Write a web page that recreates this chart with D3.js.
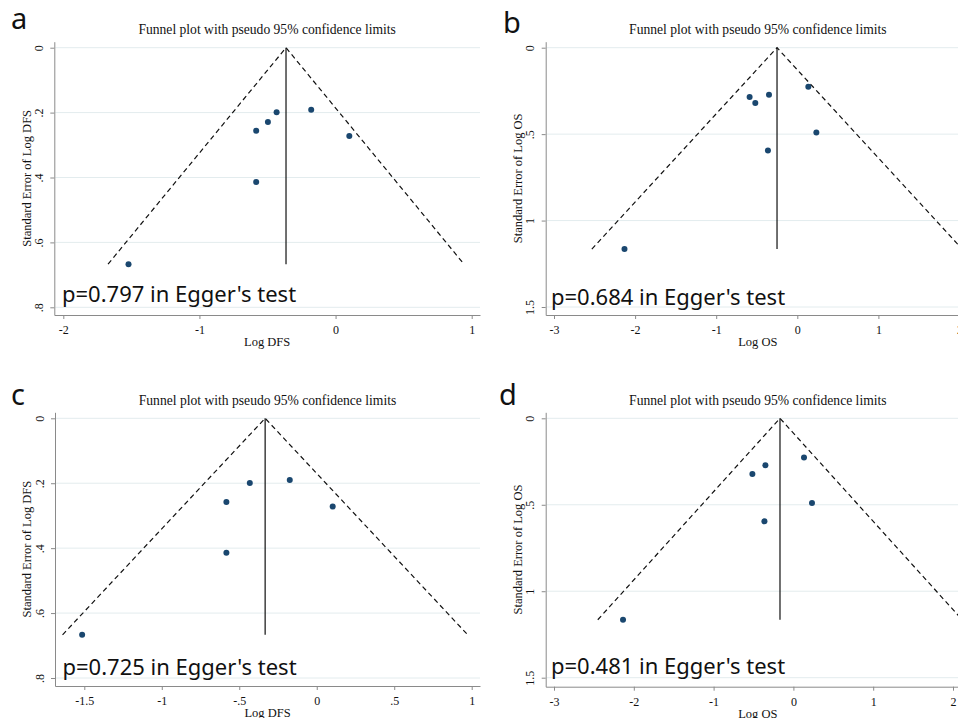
<!DOCTYPE html>
<html>
<head>
<meta charset="utf-8">
<script src="https://cdn.jsdelivr.net/npm/d3@7"></script>
<style>
  body { margin: 0; background: #fff; }
  svg { display: block; }
  .serif { font-family: "Liberation Serif", "Times New Roman", serif; fill: #111; }
  .sans  { font-family: "Noto Sans", "Open Sans", sans-serif; fill: #111; }
</style>
</head>
<body>
<svg></svg>
<script>
///////////////////////////////////////////
// Data
var panelLetters = ["a", "b", "c", "d"];
var outcomeNames = ["DFS", "OS", "DFS", "OS"];
var eggerP = ["0.797", "0.684", "0.725", "0.481"];
var pooledLogEffect = [-0.364, -0.25, -0.333, -0.168];

var logDFS_a = [-1.521, -0.583, -0.583, -0.497, -0.433, -0.179, 0.101];
var seDFS_a  = [0.667, 0.256, 0.414, 0.229, 0.199, 0.191, 0.272];

var logOS_b = [-2.131, -0.588, -0.518, -0.349, -0.362, 0.136, 0.235];
var seOS_b  = [1.165, 0.285, 0.320, 0.272, 0.594, 0.226, 0.490];

var logDFS_c = [-1.514, -0.583, -0.583, -0.432, -0.174, 0.103];
var seDFS_c  = [0.667, 0.258, 0.414, 0.199, 0.190, 0.272];

var logOS_d = [-2.135, -0.514, -0.351, -0.363, 0.133, 0.233];
var seOS_d  = [1.165, 0.322, 0.272, 0.596, 0.226, 0.490];

var effectValues = [logDFS_a, logOS_b, logDFS_c, logOS_d];
var seValues = [seDFS_a, seOS_b, seDFS_c, seOS_d];

var xTicks = [[-2, -1, 0, 1], [-3, -2, -1, 0, 1, 2], [-1.5, -1, -0.5, 0, 0.5, 1], [-3, -2, -1, 0, 1, 2]];
var yTicks = [[0, 0.2, 0.4, 0.6, 0.8], [0, 0.5, 1, 1.5], [0, 0.2, 0.4, 0.6, 0.8], [0, 0.5, 1, 1.5]];

///////////////////////////////////////////
// Layout Setting
var svgWidth = 958, svgHeight = 718;
// plot box + pixel position of first/last tick, per panel
var layout = [
  {left: 54.3, right: 480, top: 41.7, bottom: 315, xp: [63.3, 471.7], yp: [47.7, 307.3],
   titleY: 34, letterX: 11, letterY: 29, eggerX: 62, eggerY: 302, yLabelX: 31},
  {left: 545.7, right: 970, top: 41.7, bottom: 315, xp: [554, 959.5], yp: [47.7, 307],
   titleY: 34, letterX: 503, letterY: 32.5, eggerX: 551, eggerY: 305, yLabelX: 522},
  {left: 55, right: 480, top: 412.3, bottom: 686, xp: [84.3, 471.7], yp: [418.3, 678],
   titleY: 405, letterX: 11, letterY: 404.5, eggerX: 62.5, eggerY: 675, yLabelX: 31},
  {left: 545.7, right: 970, top: 412.3, bottom: 686.7, xp: [554, 953], yp: [418.3, 677.7],
   titleY: 405, letterX: 499, letterY: 405, eggerX: 551, eggerY: 673.5, yLabelX: 522}
];

var dotColor = "#1a476f",
    gridColor = "#e3ecee",
    axisColor = "#8a8a8a";

var svg = d3.select("svg").attr("width", svgWidth).attr("height", svgHeight);

// Stata style tick labels: ".5", "-.5"
function stataFormat(v) {
  return String(v).replace(/^(-?)0\./, "$1.");
}

///////////////////////////////////////////
// Draw each panel
panelLetters.forEach(function(letter, i) {
  var L = layout[i];
  var xt = xTicks[i], yt = yTicks[i];

  // scale by tick pixels, then widen the domain to the whole plot box
  var xs0 = d3.scaleLinear().domain([xt[0], xt[xt.length - 1]]).range(L.xp);
  var ys0 = d3.scaleLinear().domain([yt[0], yt[yt.length - 1]]).range(L.yp);
  var x = d3.scaleLinear().domain([xs0.invert(L.left), xs0.invert(L.right)]).range([L.left, L.right]);
  var y = d3.scaleLinear().domain([ys0.invert(L.top), ys0.invert(L.bottom)]).range([L.top, L.bottom]);

  var g = svg.append("g").classed("panel-" + letter, true);

  var clipId = "clip-" + letter;
  g.append("clipPath").attr("id", clipId)
    .append("rect")
    .attr("x", L.left).attr("y", L.top)
    .attr("width", Math.min(L.right, svgWidth) - L.left)
    .attr("height", L.bottom - L.top);

  // gridlines
  g.append("g").selectAll("line").data(yt).join("line")
    .attr("x1", L.left + 1).attr("x2", L.right)
    .attr("y1", function(d) { return y(d); })
    .attr("y2", function(d) { return y(d); })
    .attr("stroke", gridColor).attr("stroke-width", 1);

  // x axis
  var xAxis = g.append("g")
    .attr("transform", "translate(0," + L.bottom + ")")
    .call(d3.axisBottom(x).tickValues(xt).tickFormat(stataFormat)
          .tickSize(4).tickSizeOuter(0).tickPadding(6.5));
  xAxis.select(".domain").attr("stroke", axisColor);
  xAxis.selectAll(".tick line").attr("stroke", axisColor);
  xAxis.selectAll(".tick text").attr("class", "serif")
    .style("font-size", "12px").attr("fill", "#111");

  // y axis, rotated labels
  var yAxis = g.append("g")
    .attr("transform", "translate(" + L.left + ",0)")
    .call(d3.axisLeft(y).tickValues(yt).tickFormat(stataFormat)
          .tickSize(4).tickSizeOuter(0));
  yAxis.select(".domain").attr("stroke", axisColor);
  yAxis.selectAll(".tick line").attr("stroke", axisColor);
  yAxis.selectAll(".tick text").attr("class", "serif")
    .style("font-size", "12px").attr("fill", "#111")
    .attr("x", null).attr("dy", null)
    .attr("text-anchor", "middle")
    .attr("transform", "translate(-11.5,0) rotate(-90)");

  // funnel: pooled estimate +/- 1.96 * se
  var theta = pooledLogEffect[i];
  var seMax = d3.max(seValues[i]);
  var funnel = g.append("g").attr("clip-path", "url(#" + clipId + ")");
  funnel.append("path")
    .attr("d", d3.line()([[x(theta - 1.96 * seMax), y(seMax)], [x(theta), y(0)], [x(theta + 1.96 * seMax), y(seMax)]]))
    .attr("fill", "none").attr("stroke", "#111").attr("stroke-width", 1.2)
    .attr("stroke-dasharray", "5,3.5");
  funnel.append("line")
    .attr("x1", x(theta)).attr("x2", x(theta))
    .attr("y1", y(0)).attr("y2", y(seMax))
    .attr("stroke", "#111").attr("stroke-width", 1.2);

  // studies
  g.append("g").selectAll("circle").data(effectValues[i]).join("circle")
    .attr("cx", function(d) { return x(d); })
    .attr("cy", function(d, j) { return y(seValues[i][j]); })
    .attr("r", 3)
    .attr("fill", dotColor);

  // texts
  g.append("text").attr("class", "serif")
    .attr("x", (L.left + L.right) / 2).attr("y", L.titleY)
    .attr("text-anchor", "middle").style("font-size", "13.6px")
    .text("Funnel plot with pseudo 95% confidence limits");

  g.append("text").attr("class", "serif")
    .attr("x", (L.left + L.right) / 2).attr("y", L.bottom + 31)
    .attr("text-anchor", "middle").style("font-size", "12.5px")
    .text("Log " + outcomeNames[i]);

  g.append("text").attr("class", "serif")
    .attr("transform", "translate(" + L.yLabelX + "," + (L.top + L.bottom) / 2 + ") rotate(-90)")
    .attr("text-anchor", "middle").style("font-size", "12.5px")
    .text("Standard Error of Log " + outcomeNames[i]);

  g.append("text").attr("class", "sans")
    .attr("x", L.eggerX).attr("y", L.eggerY)
    .style("font-size", "22px")
    .text("p=" + eggerP[i] + " in Egger's test");

  g.append("text").attr("class", "sans")
    .attr("x", L.letterX).attr("y", L.letterY)
    .style("font-size", "29px")
    .text(letter);
});
</script>
</body>
</html>
